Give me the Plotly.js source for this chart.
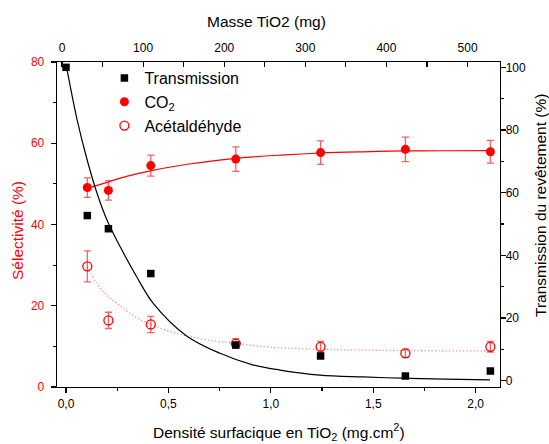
<!DOCTYPE html>
<html>
<head>
<meta charset="utf-8">
<script src="https://cdn.plot.ly/plotly-3.0.1.min.js"></script>
<style>html,body{margin:0;padding:0;background:#fff;}#chart{width:549px;height:444px;}</style>
</head>
<body>
<div id="chart"></div>
<script>
// Surface density of TiO2 (mg.cm2)
const density = [0, 0.104, 0.207, 0.414, 0.829, 1.243, 1.657, 2.072];
// Transmission of the coating (%), right axis
const transmission = [100, 52.7, 48.5, 34.2, 11.4, 7.9, 1.5, 3.1];

// Selectivity (%), left axis
const selX = [0.104, 0.207, 0.414, 0.829, 1.243, 1.657, 2.072];
const co2 = [49.1, 48.4, 54.5, 56.1, 57.7, 58.5, 57.9];
const co2Err = [2.4, 2.4, 2.6, 3.0, 2.9, 3.0, 2.8];
const acet = [29.7, 16.4, 15.4, 10.7, 9.9, 8.3, 9.9];
const acetErr = [3.8, 2.0, 2.0, 1.2, 1.3, 1.0, 1.3];

// Top axis: mass of TiO2 (mg)
const massRange = [0, 500];

// Fitted curves
const fitTX = [0, 0.054, 0.103, 0.151, 0.2, 0.264, 0.345, 0.426, 0.589, 0.752, 0.915, 1.045, 1.24, 1.45, 1.647, 1.85, 2.07];
const fitTY = [101, 83.3, 70.5, 59.9, 51.3, 42.8, 33.2, 24.7, 14.3, 8.75, 5.0, 3.4, 1.8, 1.2, 0.8, 0.5, 0.3];
const fitCX = [0.104, 0.208, 0.3, 0.412, 0.6, 0.832, 1.05, 1.243, 1.45, 1.657, 1.85, 2.072];
const fitCY = [48.9, 50.5, 51.9, 53.2, 54.9, 56.3, 57.1, 57.6, 57.9, 58.1, 58.15, 58.2];
const fitAX = [0.104, 0.15, 0.2, 0.264, 0.33, 0.41, 0.5, 0.589, 0.7, 0.825, 1.0, 1.243, 1.45, 1.657, 2.072];
const fitAY = [29.5, 25.5, 22.5, 20.0, 17.5, 15.5, 13.8, 12.6, 11.5, 10.75, 9.8, 9.3, 9.1, 8.95, 8.9];

// Axis labels
const xTitle = 'Densité surfacique en TiO<sub>2</sub> (mg.cm<sup>2</sup>)';
const x2Title = 'Masse TiO2 (mg)';
const yTitle = 'Sélectivité (%)';
const y2Title = 'Transmission du revêtement (%)';
const names = ['Transmission', 'CO<sub>2</sub>', 'Acétaldéhyde'];

const FONT = 'Liberation Sans, Arial, sans-serif';
const RED = '#ff0000';
const ERR = 'rgba(255,40,40,0.75)';

const traces = [
  {x: fitAX, y: fitAY, xaxis: 'x', yaxis: 'y', mode: 'lines', line: {color: 'rgba(255,60,60,0.7)', width: 1.3, dash: '1px,2.5px', shape: 'spline'}, showlegend: false, hoverinfo: 'skip'},
  {x: fitCX, y: fitCY, xaxis: 'x', yaxis: 'y', mode: 'lines', line: {color: RED, width: 1.2, shape: 'spline'}, showlegend: false, hoverinfo: 'skip'},
  {x: fitTX, y: fitTY, xaxis: 'x', yaxis: 'y2', mode: 'lines', line: {color: '#000', width: 1.2, shape: 'spline'}, showlegend: false, hoverinfo: 'skip'},
  {x: selX, y: acet, xaxis: 'x', yaxis: 'y', mode: 'markers', name: names[2], legendrank: 3, legendgroup: 'c',
   marker: {symbol: 'circle-open', size: 9, color: RED, line: {width: 1.3, color: RED}},
   error_y: {type: 'data', array: acetErr, visible: true, color: ERR, thickness: 1.3, width: 3.5}},
  {x: selX, y: co2, xaxis: 'x', yaxis: 'y', mode: 'markers', name: names[1], legendrank: 2, legendgroup: 'b',
   marker: {symbol: 'circle', size: 9, color: RED},
   error_y: {type: 'data', array: co2Err, visible: true, color: ERR, thickness: 1.3, width: 3.5}},
  {x: density, y: transmission, xaxis: 'x', yaxis: 'y2', mode: 'markers', name: names[0], legendrank: 1, legendgroup: 'a',
   marker: {symbol: 'square', size: 7.5, color: '#000'}},
  // invisible trace so the top axis is active
  {x: massRange, y: [null, null], xaxis: 'x2', yaxis: 'y', mode: 'markers', showlegend: false, hoverinfo: 'skip'}
];

const axisCommon = {showline: true, linecolor: '#000', linewidth: 1.3, showgrid: false, zeroline: false,
  tickcolor: '#000', tickwidth: 1.2, ticklen: 5, tickfont: {family: FONT, size: 12, color: '#000'}};

const layout = {
  width: 549, height: 444,
  margin: {l: 57, r: 49, t: 62, b: 57, pad: 0},
  paper_bgcolor: '#fff', plot_bgcolor: '#fff',
  separators: ', ',
  font: {family: FONT, color: '#000'},
  showlegend: true,
  legend: {x: 0.107, y: 1.003, xanchor: 'left', yanchor: 'top', bgcolor: 'rgba(0,0,0,0)',
    font: {family: FONT, size: 16, color: '#000'}, traceorder: 'grouped', tracegroupgap: 0, itemwidth: 30},
  xaxis: Object.assign({}, axisCommon, {range: [-0.044, 2.119], tickmode: 'linear', tick0: 0, dtick: 0.5, tickformat: '.1f', ticks: 'outside',
    minor: {dtick: 0.25, tick0: 0, ticks: 'outside', ticklen: 3, tickcolor: '#000', tickwidth: 1.2}}),
  xaxis2: Object.assign({}, axisCommon, {overlaying: 'x', side: 'top', anchor: 'y', range: [-6.2, 540], tickmode: 'linear', tick0: 0, dtick: 100, ticks: 'inside', ticklabelstandoff: 4,
    minor: {dtick: 50, tick0: 0, ticks: 'inside', ticklen: 5, tickcolor: '#000', tickwidth: 1.2}}),
  yaxis: Object.assign({}, axisCommon, {range: [0, 80], tickmode: 'linear', tick0: 0, dtick: 20, ticks: 'outside', ticklabelstandoff: 4,
    tickfont: {family: FONT, size: 12, color: RED},
    minor: {dtick: 10, tick0: 0, ticks: 'outside', ticklen: 3, tickcolor: '#000', tickwidth: 1.2}}),
  yaxis2: Object.assign({}, axisCommon, {overlaying: 'y', side: 'right', anchor: 'x', range: [-2, 101.7], tickmode: 'linear', tick0: 0, dtick: 20, ticks: 'outside', ticklabelstandoff: -3,
    minor: {dtick: 10, tick0: 0, ticks: 'outside', ticklen: 3, tickcolor: '#000', tickwidth: 1.2}}),
  annotations: [
    {text: xTitle, xref: 'paper', yref: 'paper', x: 0.5, y: -0.1375, xanchor: 'center', yanchor: 'middle', showarrow: false, font: {family: FONT, size: 15.5, color: '#000'}},
    {text: x2Title, xref: 'paper', yref: 'paper', x: 0.473, y: 1.124, xanchor: 'center', yanchor: 'middle', showarrow: false, font: {family: FONT, size: 15.5, color: '#000'}},
    {text: yTitle, xref: 'paper', yref: 'paper', x: -0.0903, y: 0.483, xanchor: 'center', yanchor: 'middle', textangle: -90, showarrow: false, font: {family: FONT, size: 15.5, color: RED}},
    {text: y2Title, xref: 'paper', yref: 'paper', x: 1.0914, y: 0.5585, xanchor: 'center', yanchor: 'middle', textangle: -90, showarrow: false, font: {family: FONT, size: 15.5, color: '#000'}}
  ]
};

Plotly.newPlot('chart', traces, layout, {displayModeBar: false, staticPlot: true});
</script>
</body>
</html>
